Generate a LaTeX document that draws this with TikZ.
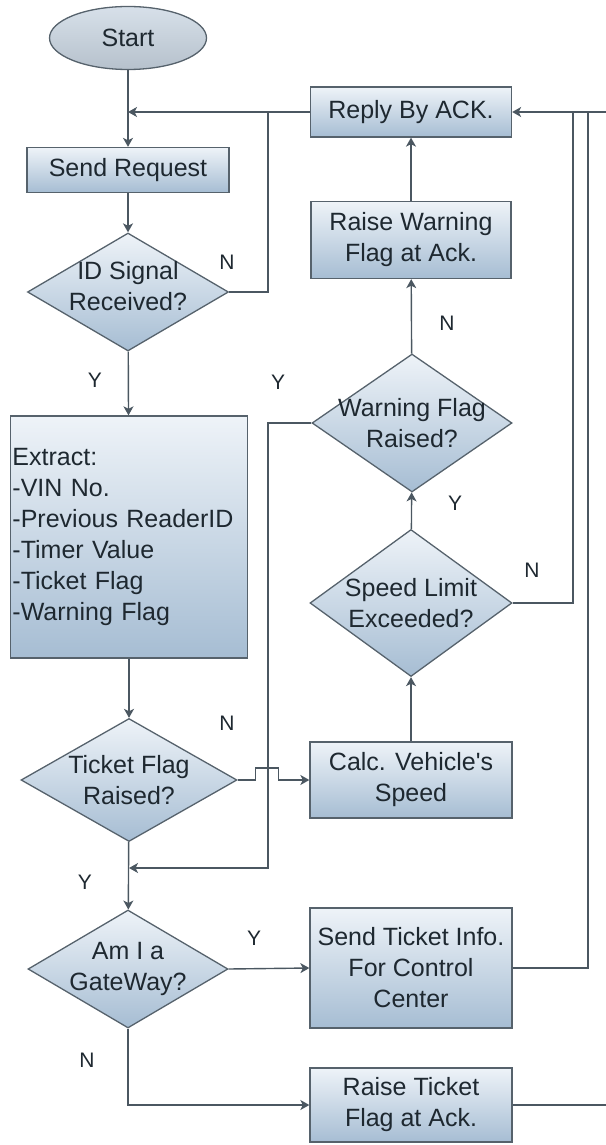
\documentclass[tikz,border=0pt]{standalone}
\usepackage{fontspec}
\setmainfont{Liberation Sans}
\usetikzlibrary{shapes.geometric,arrows.meta}
\definecolor{edgec}{HTML}{56626C}
\definecolor{linec}{HTML}{4B5761}
\definecolor{fillTop}{HTML}{EEF3F8}
\definecolor{fillBot}{HTML}{A6BDD3}
\definecolor{ovalc}{HTML}{C6D3E0}
\definecolor{ink}{HTML}{1E2830}

\begin{document}
\begin{tikzpicture}[x=1pt,y=-1pt,
  every node/.style={font=\fontsize{25}{31}\selectfont, text=ink},
  stepbox/.style={rectangle, draw=edgec, line width=1.3pt,
    top color=fillTop, bottom color=fillBot, inner sep=0pt, align=center},
  decision/.style={diamond, draw=edgec, line width=1.3pt,
    top color=fillTop, bottom color=fillBot, inner sep=0pt},
  dtext/.style={align=center, font=\fontsize{25}{31}\selectfont, text=ink},
  terminal/.style={ellipse, draw=edgec, line width=1.3pt,
    top color=ovalc!70!white, bottom color=ovalc!90!black!95, inner sep=0pt},
  flow/.style={draw=linec, line width=1.4pt},
  arr/.style={flow, -{Stealth[length=9pt,width=10pt,inset=2.5pt]}},
  tag/.style={font=\fontsize{21}{24}\selectfont, text=ink}
]
\useasboundingbox (0,0) rectangle (605,1145);

% ---- left column ----
\node[terminal, minimum width=157, minimum height=63] (start) at (128,38) {Start};
\node[stepbox, minimum width=202, minimum height=45] (send) at (128,170) {Send Request};
\node[decision, minimum width=201, minimum height=118,
  label={[dtext, yshift=6pt]center:{ID Signal\\Received?}}] (idsig) at (128,292) {};
\node[stepbox, minimum width=237, minimum height=242, text width=233, align=left]
  (extract) at (129,537) {Extract:\\-VIN No.\\-Previous ReaderID\\-Timer Value\\-Ticket Flag\\-Warning Flag};
\node[decision, minimum width=216, minimum height=123,
  label={[dtext]center:{Ticket Flag\\Raised?}}] (ticket) at (129,780) {};
\node[decision, minimum width=200, minimum height=118,
  label={[dtext]center:{Am I a\\GateWay?}}] (gate) at (128,969) {};

% ---- right column ----
\node[stepbox, minimum width=201, minimum height=50] (reply) at (411,112) {Reply By ACK.};
\node[stepbox, minimum width=200, minimum height=77] (rwarn) at (411,240) {Raise Warning\\Flag at Ack.};
\node[decision, minimum width=200, minimum height=138,
  label={[dtext]center:{Warning Flag\\Raised?}}] (warn) at (412,423) {};
\node[decision, minimum width=202, minimum height=147,
  label={[dtext]center:{Speed Limit\\Exceeded?}}] (speed) at (411,603) {};
\node[stepbox, minimum width=202, minimum height=76] (calc) at (411,780) {Calc. Vehicle\textquotesingle s\\Speed};
\node[stepbox, minimum width=202, minimum height=120] (sendt) at (411,968) {Send Ticket Info.\\For Control\\Center};
\node[stepbox, minimum width=202, minimum height=74] (rticket) at (411,1105) {Raise Ticket\\Flag at Ack.};

% ---- junction points on the return lines ----
\coordinate (joinA) at (268,112);
\coordinate (joinB) at (573,112);
\coordinate (joinC) at (588,112);
\coordinate (joinW) at (268,868);

% ---- connectors ----
\draw[arr] (start) -- (send);
\draw[arr] (reply.west) -- (start.south |- reply.west);
\draw[arr] (send) -- (idsig);
\draw[flow] (idsig.east) -| (joinA);
\draw[arr] (idsig) -- (extract);
\draw[arr] (extract) -- (ticket);
\draw[arr] (ticket.east) -- ++(18,0) -- ++(0,-12) -- ++(23,0) -- ++(0,12) -- (calc.west);
\draw[arr] (calc) -- (speed);
\draw[arr] (speed) -- (warn);
\draw[flow] (speed.east) -| (joinB);
\draw[arr] (warn) -- (rwarn);
\draw[arr] (rwarn) -- (reply);
\draw[arr] (warn.west) -| (joinW) -- (ticket.south |- joinW);
\draw[arr] (ticket) -- (gate);
\draw[arr] (gate.east) -- (sendt.west);
\draw[flow] (sendt.east) -| (joinC);
\draw[arr] (gate.south) |- (rticket.west);
\draw[arr] (rticket.east) -- ++(99,0) |- (reply.east);

% ---- branch labels ----
\node[tag] (n1) at (227,262) {N};
\node[tag] (y1) at (95,380) {Y};
\node[tag] (y2) at (278,382) {Y};
\node[tag] (n2) at (447,323) {N};
\node[tag] (y3) at (455,503) {Y};
\node[tag] (n3) at (532,570) {N};
\node[tag] (n4) at (227,723) {N};
\node[tag] (y4) at (85,882) {Y};
\node[tag] (y5) at (254,938) {Y};
\node[tag] (n5) at (87,1060) {N};
\end{tikzpicture}
\end{document}
